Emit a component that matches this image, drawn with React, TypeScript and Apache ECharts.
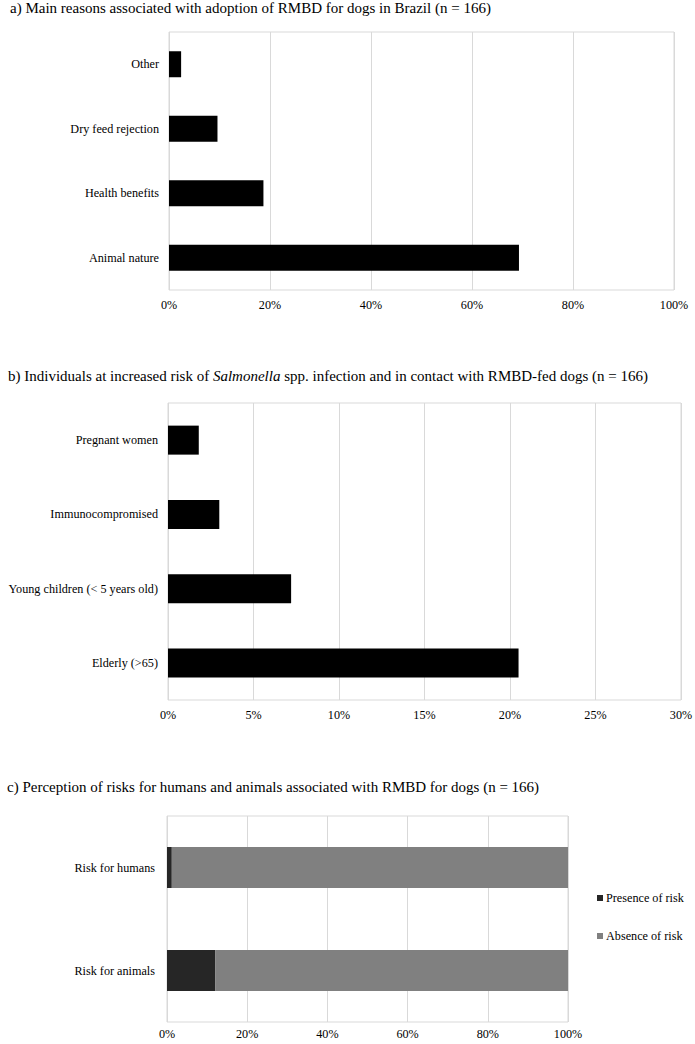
import React, { useEffect, useRef } from "react";
import * as echarts from "echarts";

// Panel a
const reasonCategories = ["Animal nature", "Health benefits", "Dry feed rejection", "Other"];
const reasonValues = [69.3, 18.7, 9.6, 2.4];
const reasonTicks = [0, 20, 40, 60, 80, 100];

// Panel b
const riskGroupCategories = ["Elderly (>65)", "Young children (< 5 years old)", "Immunocompromised", "Pregnant women"];
const riskGroupValues = [20.5, 7.2, 3.0, 1.8];
const riskGroupTicks = [0, 5, 10, 15, 20, 25, 30];

// Panel c
const perceptionCategories = ["Risk for animals", "Risk for humans"];
const presenceValues = [12.0, 1.2];
const absenceValues = [88.0, 98.8];
const perceptionTicks = [0, 20, 40, 60, 80, 100];

const titleA = "a) Main reasons associated with adoption of RMBD for dogs in Brazil (n = 166)";
const titleB = "b) Individuals at increased risk of {i|Salmonella} spp. infection and in contact with RMBD-fed dogs (n = 166)";
const titleC = "c) Perception of risks for humans and animals associated with RMBD for dogs (n = 166)";

const FONT = "'Liberation Serif', 'Times New Roman', serif";
const GRIDC = "#d9d9d9";
const LABEL_SIZE = 12.2;
const TITLE_SIZE = 15;

export default function App() {
  const ref = useRef<HTMLDivElement>(null);

  useEffect(() => {
    document.body.style.margin = "0";
    if (!ref.current) return;
    const chart = echarts.init(ref.current, null, { renderer: "svg" });

    const titleStyle = { fontFamily: FONT, fontSize: TITLE_SIZE, fontWeight: "normal" as const, color: "#000" };
    const xAxisBase = (gridIndex: number, ticks: number[], margin: number) => ({
      type: "value" as const,
      gridIndex,
      min: ticks[0],
      max: ticks[ticks.length - 1],
      interval: ticks[1] - ticks[0],
      axisLine: { show: false },
      axisTick: { show: false },
      splitLine: { show: true, lineStyle: { color: GRIDC, width: 1 } },
      axisLabel: {
        formatter: "{value}%",
        fontFamily: FONT,
        fontSize: LABEL_SIZE,
        color: "#000",
        margin,
      },
    });
    const yAxisBase = (gridIndex: number, cats: string[], margin: number) => ({
      type: "category" as const,
      gridIndex,
      data: cats,
      axisLine: { show: false },
      axisTick: { show: false },
      splitLine: { show: false },
      axisLabel: { fontFamily: FONT, fontSize: LABEL_SIZE, color: "#000", margin },
    });
    const gridBase = { show: true, borderColor: GRIDC, borderWidth: 1, backgroundColor: "transparent", containLabel: false, outerBoundsMode: "none" };

    chart.setOption({
      animation: false,
      backgroundColor: "#fff",
      textStyle: { fontFamily: FONT },
      title: [
        { text: titleA, left: 10, top: 0, padding: 0, textStyle: titleStyle },
        {
          text: titleB,
          left: 8,
          top: 368,
          padding: 0,
          textStyle: {
            ...titleStyle,
            rich: { i: { fontFamily: FONT, fontSize: TITLE_SIZE, fontStyle: "italic", color: "#000" } },
          },
        },
        { text: titleC, left: 7, top: 779, padding: 0, textStyle: titleStyle },
      ],
      grid: [
        { ...gridBase, left: 169, right: 21, top: 32, height: 258 },
        { ...gridBase, left: 168, right: 14, top: 403, height: 297 },
        { ...gridBase, left: 167, right: 127, top: 816, height: 206 },
      ],
      xAxis: [xAxisBase(0, reasonTicks, 9), xAxisBase(1, riskGroupTicks, 9), xAxisBase(2, perceptionTicks, 6)],
      yAxis: [
        yAxisBase(0, reasonCategories, 10),
        yAxisBase(1, riskGroupCategories, 10),
        yAxisBase(2, perceptionCategories, 12),
      ],
      legend: {
        orient: "vertical",
        left: 592,
        top: 886,
        itemWidth: 6,
        itemHeight: 6,
        itemGap: 24,
        icon: "rect",
        data: ["Presence of risk", "Absence of risk"],
        textStyle: { fontFamily: FONT, fontSize: LABEL_SIZE, color: "#000", lineHeight: 14, padding: [0, 0, 0, -2] },
      },
      series: [
        {
          name: "Reasons",
          type: "bar",
          xAxisIndex: 0,
          yAxisIndex: 0,
          data: reasonValues,
          barWidth: 26,
          itemStyle: { color: "#000" },
        },
        {
          name: "Risk groups",
          type: "bar",
          xAxisIndex: 1,
          yAxisIndex: 1,
          data: riskGroupValues,
          barWidth: 29,
          itemStyle: { color: "#000" },
        },
        {
          name: "Presence of risk",
          type: "bar",
          stack: "c",
          xAxisIndex: 2,
          yAxisIndex: 2,
          data: presenceValues,
          barWidth: 41,
          itemStyle: { color: "#262626" },
        },
        {
          name: "Absence of risk",
          type: "bar",
          stack: "c",
          xAxisIndex: 2,
          yAxisIndex: 2,
          data: absenceValues,
          barWidth: 41,
          itemStyle: { color: "#808080" },
        },
      ],
    });

    return () => chart.dispose();
  }, []);

  return <div ref={ref} style={{ width: 695, height: 1044 }} />;
}
